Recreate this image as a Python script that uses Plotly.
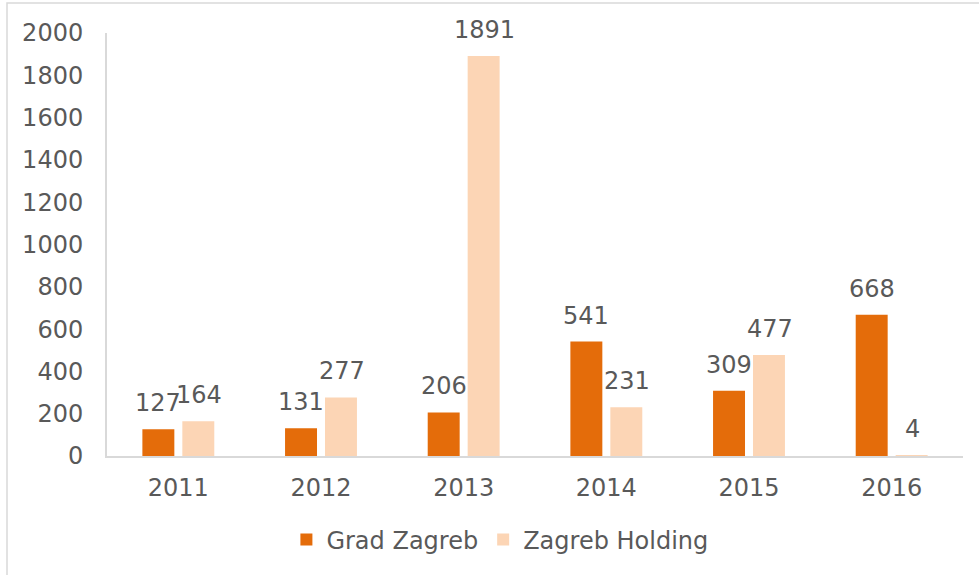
import plotly.graph_objects as go

years = ["2011", "2012", "2013", "2014", "2015", "2016"]
grad_zagreb = [127, 131, 206, 541, 309, 668]
zagreb_holding = [164, 277, 1891, 231, 477, 4]
series_names = ["Grad Zagreb", "Zagreb Holding"]
y_ticks = [0, 200, 400, 600, 800, 1000, 1200, 1400, 1600, 1800, 2000]

C_DARK = "#E46C0A"
C_LIGHT = "#FCD5B5"
TXT = "#595959"
FONT = "Verdana, DejaVu Sans, sans-serif"
FS = 24

W, H = 979, 575
L, R, T, B = 107, 16, 33, 119
pw, ph = W - L - R, H - T - B

fig = go.Figure()
fig.add_trace(go.Bar(x=years, y=grad_zagreb, name=series_names[0], marker_color=C_DARK,
                     marker_line_width=0))
fig.add_trace(go.Bar(x=years, y=zagreb_holding, name=series_names[1], marker_color=C_LIGHT,
                     marker_line_width=0))

annotations = []
for vals, dx in ((grad_zagreb, -20), (zagreb_holding, 21)):
    for i, v in enumerate(vals):
        annotations.append(dict(x=i, y=v, xref="x", yref="y", text=str(v), showarrow=False,
                                xshift=dx, yanchor="bottom", yshift=10,
                                font=dict(family=FONT, size=FS, color=TXT)))

def px2paper_x(px):
    return (px - L) / pw

def px2paper_y(py):
    return (H - B - py) / ph

fig.update_layout(
    width=W, height=H,
    margin=dict(l=L, r=R, t=T, b=B, autoexpand=False),
    paper_bgcolor="white", plot_bgcolor="white",
    font=dict(family=FONT, size=FS, color=TXT),
    barmode="group", bargap=0.44, bargroupgap=0.2,
    showlegend=True,
    legend=dict(orientation="h", x=0.459, xanchor="center", y=px2paper_y(540), yanchor="middle",
                font=dict(family=FONT, size=FS, color=TXT), itemclick=False, traceorder="normal"),
    annotations=annotations,
    shapes=[dict(type="rect", xref="paper", yref="paper",
                 x0=px2paper_x(7), x1=px2paper_x(990), y0=px2paper_y(590), y1=px2paper_y(3),
                 line=dict(color="#D9D9D9", width=1.5), layer="below")],
)
fig.update_xaxes(type="category", categoryarray=years, showgrid=False, showline=True,
                 linecolor="#D9D9D9", linewidth=2, range=[-0.5, len(years) - 0.5],
                 ticks="", ticklabelstandoff=9, tickfont=dict(size=FS, color=TXT),
                 automargin=False)
fig.update_yaxes(range=[0, 2000], tickvals=y_ticks, showgrid=False, showline=True,
                 linecolor="#D9D9D9", linewidth=2, ticks="", ticklabelstandoff=17,
                 zeroline=False, tickfont=dict(size=FS, color=TXT), automargin=False)

fig.write_html("out.html", config={"displayModeBar": False},
               post_script="document.body.style.margin='0px';")
